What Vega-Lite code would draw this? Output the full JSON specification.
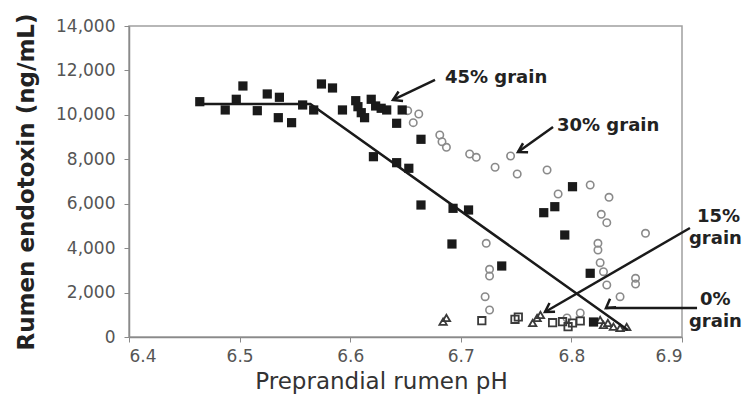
{
  "$schema": "https://vega.github.io/schema/vega-lite/v6.json",
  "width": 553,
  "height": 311,
  "autosize": {"type": "none"},
  "padding": {"left": 129, "top": 26, "right": 65, "bottom": 69},
  "background": "white",
  "config": {
    "view": {"stroke": "#a0a0a0", "strokeWidth": 1.5},
    "font": "DejaVu Sans"
  },
  "datasets": {
    "g45": [
      {"ph": 6.464, "endo": 10593}, {"ph": 6.487, "endo": 10220}, {"ph": 6.497, "endo": 10701},
      {"ph": 6.503, "endo": 11300}, {"ph": 6.516, "endo": 10188}, {"ph": 6.525, "endo": 10940},
      {"ph": 6.536, "endo": 10791}, {"ph": 6.535, "endo": 9873}, {"ph": 6.547, "endo": 9648},
      {"ph": 6.557, "endo": 10445}, {"ph": 6.567, "endo": 10220}, {"ph": 6.574, "endo": 11390},
      {"ph": 6.584, "endo": 11210}, {"ph": 6.593, "endo": 10220}, {"ph": 6.605, "endo": 10638},
      {"ph": 6.607, "endo": 10368}, {"ph": 6.610, "endo": 10098}, {"ph": 6.613, "endo": 9873},
      {"ph": 6.619, "endo": 10701}, {"ph": 6.623, "endo": 10400}, {"ph": 6.628, "endo": 10296},
      {"ph": 6.633, "endo": 10220}, {"ph": 6.642, "endo": 9621}, {"ph": 6.621, "endo": 8117},
      {"ph": 6.642, "endo": 7847}, {"ph": 6.647, "endo": 10220}, {"ph": 6.664, "endo": 8900},
      {"ph": 6.653, "endo": 7595}, {"ph": 6.664, "endo": 5942}, {"ph": 6.693, "endo": 5793},
      {"ph": 6.707, "endo": 5718}, {"ph": 6.775, "endo": 5596}, {"ph": 6.785, "endo": 5866},
      {"ph": 6.801, "endo": 6766}, {"ph": 6.794, "endo": 4592}, {"ph": 6.692, "endo": 4187},
      {"ph": 6.737, "endo": 3196}, {"ph": 6.817, "endo": 2868}, {"ph": 6.820, "endo": 675}
    ],
    "g30": [
      {"ph": 6.652, "endo": 10188}, {"ph": 6.662, "endo": 10040}, {"ph": 6.657, "endo": 9648},
      {"ph": 6.681, "endo": 9094}, {"ph": 6.683, "endo": 8792}, {"ph": 6.687, "endo": 8540},
      {"ph": 6.708, "endo": 8239}, {"ph": 6.714, "endo": 8090}, {"ph": 6.745, "endo": 8149},
      {"ph": 6.731, "endo": 7640}, {"ph": 6.751, "endo": 7338}, {"ph": 6.778, "endo": 7518},
      {"ph": 6.817, "endo": 6843}, {"ph": 6.788, "endo": 6438}, {"ph": 6.834, "endo": 6289},
      {"ph": 6.827, "endo": 5524}, {"ph": 6.832, "endo": 5146}, {"ph": 6.867, "endo": 4668},
      {"ph": 6.723, "endo": 4218}, {"ph": 6.824, "endo": 4218}, {"ph": 6.824, "endo": 3917},
      {"ph": 6.826, "endo": 3345}, {"ph": 6.829, "endo": 2940}, {"ph": 6.726, "endo": 3048},
      {"ph": 6.726, "endo": 2746}, {"ph": 6.832, "endo": 2341}, {"ph": 6.858, "endo": 2643},
      {"ph": 6.858, "endo": 2386}, {"ph": 6.722, "endo": 1814}, {"ph": 6.726, "endo": 1216},
      {"ph": 6.844, "endo": 1814}, {"ph": 6.808, "endo": 1080}, {"ph": 6.796, "endo": 855}
    ],
    "g15": [
      {"ph": 6.719, "endo": 734}, {"ph": 6.783, "endo": 644}, {"ph": 6.792, "endo": 689},
      {"ph": 6.797, "endo": 464}, {"ph": 6.801, "endo": 630}, {"ph": 6.808, "endo": 720},
      {"ph": 6.749, "endo": 797}, {"ph": 6.752, "endo": 900}
    ],
    "g0": [
      {"ph": 6.684, "endo": 689}, {"ph": 6.687, "endo": 855}, {"ph": 6.765, "endo": 630},
      {"ph": 6.769, "endo": 855}, {"ph": 6.772, "endo": 990}, {"ph": 6.826, "endo": 765},
      {"ph": 6.829, "endo": 540}, {"ph": 6.833, "endo": 630}, {"ph": 6.838, "endo": 464},
      {"ph": 6.844, "endo": 405}, {"ph": 6.850, "endo": 450}
    ],
    "fit": [
      {"ph": 6.464, "endo": 10490}, {"ph": 6.564, "endo": 10490}, {"ph": 6.851, "endo": 315}
    ],
    "arrows": [
      {"label": "45% grain", "ph": 6.6767, "endo": 11570, "ph2": 6.6387, "endo2": 10670},
      {"label": "30% grain", "ph": 6.7834, "endo": 9454, "ph2": 6.7517, "endo2": 8329},
      {"label": "15% grain", "ph": 6.9072, "endo": 4907, "ph2": 6.7761, "endo2": 1125},
      {"label": "0% grain", "ph": 6.9136, "endo": 1306, "ph2": 6.8313, "endo2": 1306}
    ],
    "labels": [
      {"text": "45% grain", "ph": 6.6857, "endo": 11660},
      {"text": "30% grain", "ph": 6.787, "endo": 9499},
      {"text": "15%", "ph": 6.9136, "endo": 5402},
      {"text": "grain", "ph": 6.9063, "endo": 4412},
      {"text": "0%", "ph": 6.9163, "endo": 1666},
      {"text": "grain", "ph": 6.9063, "endo": 675}
    ]
  },
  "encoding": {
    "x": {
      "field": "ph", "type": "quantitative",
      "scale": {"domain": [6.4, 6.9], "nice": false, "zero": false},
      "axis": {
        "title": "Preprandial rumen pH",
        "values": [6.4, 6.5, 6.6, 6.7, 6.8, 6.9],
        "format": ".1f",
        "grid": false,
        "domainColor": "#8a8a8a", "domainWidth": 1.5,
        "tickColor": "#8a8a8a", "tickSize": 5,
        "labelFontSize": 17, "labelColor": "#555555", "labelPadding": 6,
        "titleFontSize": 23, "titleColor": "#333333", "titleFontWeight": "normal", "titlePadding": 6,
        "titleX": 252
      }
    },
    "y": {
      "field": "endo", "type": "quantitative",
      "scale": {"domain": [0, 14000], "nice": false},
      "axis": {
        "title": "Rumen endotoxin (ng/mL)",
        "values": [0, 2000, 4000, 6000, 8000, 10000, 12000, 14000],
        "format": ",.0f",
        "grid": false,
        "domainColor": "#8a8a8a", "domainWidth": 1.5,
        "tickColor": "#8a8a8a", "tickSize": 5,
        "labelFontSize": 17, "labelColor": "#555555", "labelPadding": 9,
        "titleFontSize": 23, "titleColor": "#222222", "titleFontWeight": "bold", "titlePadding": 17
      }
    }
  },
  "layer": [
    {
      "data": {"name": "g30"},
      "mark": {"type": "point", "shape": "circle", "filled": false, "stroke": "#8a8a8a", "strokeWidth": 1.6, "size": 55, "opacity": 1}
    },
    {
      "data": {"name": "g15"},
      "mark": {"type": "point", "shape": "square", "filled": false, "stroke": "#3a3a3a", "strokeWidth": 1.8, "size": 55, "opacity": 1}
    },
    {
      "data": {"name": "g0"},
      "mark": {"type": "point", "shape": "triangle-up", "filled": false, "stroke": "#3a3a3a", "strokeWidth": 1.8, "size": 55, "opacity": 1}
    },
    {
      "data": {"name": "g45"},
      "mark": {"type": "point", "shape": "square", "filled": true, "color": "#1a1a1a", "size": 85, "opacity": 1}
    },
    {
      "data": {"name": "fit"},
      "mark": {"type": "line", "color": "#1a1a1a", "strokeWidth": 2.5}
    },
    {
      "data": {"name": "arrows"},
      "mark": {"type": "rule", "color": "#1a1a1a", "strokeWidth": 2.5},
      "encoding": {
        "x2": {"field": "ph2"},
        "y2": {"field": "endo2"}
      }
    },
    {
      "data": {"name": "arrows"},
      "mark": {"type": "point", "shape": "M-0.6,1L0,0L0.6,1", "filled": false, "stroke": "#1a1a1a", "strokeWidth": 2.5, "size": 300, "opacity": 1},
      "encoding": {
        "x": {"field": "ph2", "type": "quantitative"},
        "y": {"field": "endo2", "type": "quantitative"},
        "angle": {
          "field": "label", "type": "nominal",
          "scale": {"domain": ["45% grain", "30% grain", "15% grain", "0% grain"], "range": [244.5, 234.5, 240, 270]},
          "legend": null
        }
      }
    },
    {
      "data": {"name": "labels"},
      "mark": {"type": "text", "align": "left", "baseline": "middle", "fontSize": 18, "fontWeight": "bold", "color": "#222222"},
      "encoding": {"text": {"field": "text"}}
    }
  ]
}
